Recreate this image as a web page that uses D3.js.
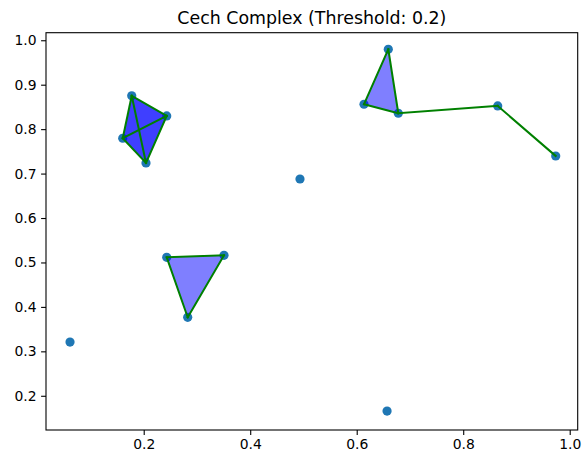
<!DOCTYPE html>
<html>
<head>
<meta charset="utf-8">
<script src="https://cdn.jsdelivr.net/npm/d3@7"></script>
<style>
  body { margin: 0; background: #fff; }
  svg { display: block; font-family: "DejaVu Sans", sans-serif; }
</style>
</head>
<body>
<script>
// point cloud
const xs = [0.1775, 0.2432, 0.1606, 0.2043,
            0.2432, 0.3508, 0.2826,
            0.6593, 0.6137, 0.6781, 0.8648, 0.9737,
            0.4935, 0.0616, 0.6570];
const ys = [0.875, 0.8297, 0.7795, 0.7239,
            0.5116, 0.5160, 0.3765,
            0.9798, 0.8560, 0.8357, 0.8522, 0.7396,
            0.6878, 0.3209, 0.1656];

// 2-simplices (filled triangles)
const triangles = [[0, 1, 2], [0, 1, 3], [0, 2, 3], [1, 2, 3],
                   [4, 5, 6],
                   [7, 8, 9]];

// 1-simplices (edges)
const edges = [[0, 1], [0, 2], [0, 3], [1, 2], [1, 3], [2, 3],
               [4, 5], [4, 6], [5, 6],
               [7, 8], [7, 9], [8, 9], [9, 10], [10, 11]];

const xTicks = [0.2, 0.4, 0.6, 0.8, 1.0];
const yTicks = [0.2, 0.3, 0.4, 0.5, 0.6, 0.7, 0.8, 0.9, 1.0];
const threshold = 0.2;

const width = 583, height = 462;
const m = { left: 46, right: 577.7, top: 32.7, bottom: 430 };

const x = d3.scaleLinear().domain([0.0165, 1.015]).range([m.left, m.right]);
const y = d3.scaleLinear().domain([0.123, 1.017]).range([m.bottom, m.top]);

const svg = d3.select('body')
  .append('svg')
  .attr('width', width)
  .attr('height', height);

svg.append('text')
  .attr('x', (m.left + m.right) / 2)
  .attr('y', 24)
  .attr('text-anchor', 'middle')
  .attr('font-size', 17.4)
  .attr('fill', '#000')
  .text(`Cech Complex (Threshold: ${threshold})`);

const plot = svg.append('g');

// scatter first
plot.append('g')
  .selectAll('circle')
  .data(xs.map((d, i) => [d, ys[i]]))
  .join('circle')
  .attr('cx', d => x(d[0]))
  .attr('cy', d => y(d[1]))
  .attr('r', 4.6)
  .attr('fill', '#1f77b4');

// triangles
plot.append('g')
  .selectAll('path')
  .data(triangles)
  .join('path')
  .attr('d', t => 'M' + t.map(i => [x(xs[i]), y(ys[i])].join(',')).join('L') + 'Z')
  .attr('fill', 'blue')
  .attr('fill-opacity', 0.5)
  .attr('stroke', 'none');

// edges
plot.append('g')
  .selectAll('line')
  .data(edges)
  .join('line')
  .attr('x1', e => x(xs[e[0]]))
  .attr('y1', e => y(ys[e[0]]))
  .attr('x2', e => x(xs[e[1]]))
  .attr('y2', e => y(ys[e[1]]))
  .attr('stroke', 'green')
  .attr('stroke-width', 2)
  .attr('stroke-linecap', 'square');

// axes
const xAxis = svg.append('g')
  .attr('transform', `translate(0,${m.bottom})`)
  .call(d3.axisBottom(x).tickValues(xTicks).tickFormat(d3.format('.1f')).tickSize(4.9).tickPadding(4.5));

const yAxis = svg.append('g')
  .attr('transform', `translate(${m.left},0)`)
  .call(d3.axisLeft(y).tickValues(yTicks).tickFormat(d3.format('.1f')).tickSize(4.9).tickPadding(4.5));

[xAxis, yAxis].forEach(a => {
  a.select('.domain').remove();
  a.selectAll('.tick line').attr('stroke', '#000').attr('stroke-width', 1.1);
  a.selectAll('.tick text')
    .attr('font-size', 13.9)
    .attr('font-family', '"DejaVu Sans", sans-serif')
    .attr('fill', '#000');
});

// frame
svg.append('rect')
  .attr('x', m.left)
  .attr('y', m.top)
  .attr('width', m.right - m.left)
  .attr('height', m.bottom - m.top)
  .attr('fill', 'none')
  .attr('stroke', '#000')
  .attr('stroke-width', 1.1);
</script>
</body>
</html>
